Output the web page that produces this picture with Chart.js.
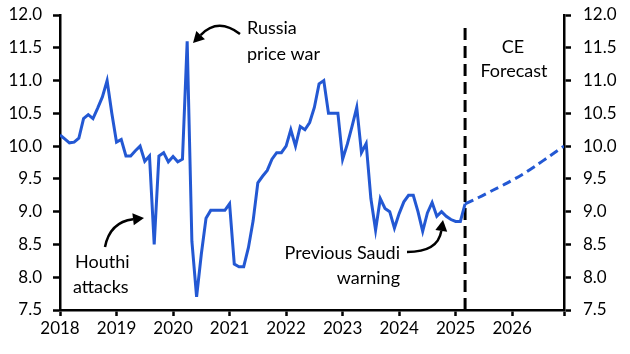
<!DOCTYPE html>
<html>
<head>
<meta charset="utf-8">
<script src="https://cdn.jsdelivr.net/npm/chart.js@4.4.1/dist/chart.umd.min.js"></script>
<style>
  html, body { margin: 0; padding: 0; background: #fff; }
</style>
</head>
<body>
<canvas id="chart" width="630" height="354"></canvas>
<script>
// Monthly actuals, starting Jan 2018
const firstMonth = '2018-01';
const actual = [
    10.17, 10.11, 10.05, 10.06, 10.12, 10.42, 10.48, 10.42, 10.58, 10.75, 11.0, 10.5,   // 2018
    10.06, 10.1, 9.85, 9.85, 9.93, 10.0, 9.77, 9.85, 8.5, 9.85, 9.9, 9.76,              // 2019
    9.84, 9.76, 9.8, 11.6, 8.55, 7.7, 8.35, 8.9, 9.02, 9.02, 9.02, 9.02,                // 2020
    9.12, 8.2, 8.16, 8.16, 8.45, 8.86, 9.44, 9.54, 9.63, 9.8, 9.9, 9.9,                  // 2021
    10.0, 10.25, 10.0, 10.3, 10.25, 10.36, 10.59, 10.95, 11.0, 10.5, 10.5, 10.5,        // 2022
    9.8, 10.03, 10.3, 10.59, 9.9, 10.04, 9.2, 8.72, 9.2, 9.05, 9.0, 8.75,               // 2023
    8.97, 9.15, 9.25, 9.25, 9.0, 8.7, 8.98, 9.14, 8.93, 9.0, 8.93, 8.88,                // 2024
    8.85, 8.85, 9.12                                                                     // 2025
];

// CE forecast path
const forecastMonths = ['2025-03', '2025-06', '2025-09', '2025-12', '2026-03', '2026-06', '2026-09', '2026-12'];
const forecast = [9.12, 9.22, 9.33, 9.44, 9.56, 9.70, 9.85, 10.0];

// forecast divider
const dividerMonth = '2025-03';
const dividerRange = [7.5, 11.85];

const yearTicks = [2018, 2019, 2020, 2021, 2022, 2023, 2024, 2025, 2026];
const yTicks = [7.5, 8.0, 8.5, 9.0, 9.5, 10.0, 10.5, 11.0, 11.5, 12.0];
const xEnd = '2026-12';

// 'YYYY-MM' -> decimal year
function toYear(m) {
    const [y, mo] = m.split('-').map(Number);
    return y + (mo - 1) / 12;
}

const startYear = toYear(firstMonth);
const actualPoints = actual.map((v, i) => ({ x: startYear + i / 12, y: v }));
const forecastPoints = forecastMonths.map((m, i) => ({ x: toYear(m), y: forecast[i] }));
const dividerPoints = dividerRange.map(v => ({ x: toYear(dividerMonth), y: v }));

const blue = '#2358d3';
const tickFont = { family: 'Lato', size: 17 };

// arrow: quadratic curve with a filled head at the end
function drawArrow(ctx, x0, y0, cx, cy, x1, y1) {
    const ang = Math.atan2(y1 - cy, x1 - cx);
    const len = 11, w = 6;
    const bx = x1 - len * Math.cos(ang), by = y1 - len * Math.sin(ang);
    ctx.beginPath();
    ctx.moveTo(x0, y0);
    ctx.quadraticCurveTo(cx, cy, bx, by);
    ctx.stroke();
    ctx.beginPath();
    ctx.moveTo(x1, y1);
    ctx.lineTo(bx - w * Math.sin(ang), by + w * Math.cos(ang));
    ctx.lineTo(bx + w * Math.sin(ang), by - w * Math.cos(ang));
    ctx.closePath();
    ctx.fill();
}

const notes = {
    id: 'notes',
    afterDraw(chart) {
        const ctx = chart.ctx;
        ctx.save();
        ctx.fillStyle = '#000';
        ctx.strokeStyle = '#000';
        ctx.lineWidth = 2.5;
        ctx.font = '18px Lato';
        ctx.textBaseline = 'alphabetic';

        ctx.textAlign = 'left';
        ctx.fillText('Russia', 247, 34);
        ctx.fillText('price war', 247, 60);
        ctx.fillText('Houthi', 75, 268);
        ctx.fillText('attacks', 73, 293);

        ctx.textAlign = 'right';
        ctx.fillText('Previous Saudi', 400, 259);
        ctx.fillText('warning', 400, 284);

        ctx.textAlign = 'center';
        ctx.fillText('CE', 513, 53);
        ctx.fillText('Forecast', 514, 77);

        drawArrow(ctx, 240, 34, 218, 17, 193, 43);
        drawArrow(ctx, 105, 247, 110, 222, 144, 218);
        drawArrow(ctx, 407, 252, 438, 252, 443, 220);
        ctx.restore();
    }
};

function fitY(width) {
    return s => {
        s.width = width;
        s.paddingTop = 0;
        s.paddingBottom = 0;
    };
}

new Chart(document.getElementById('chart'), {
    type: 'line',
    data: {
        datasets: [
            {
                data: actualPoints,
                borderColor: blue,
                borderWidth: 3,
                pointRadius: 0,
                tension: 0,
                yAxisID: 'y'
            },
            {
                data: forecastPoints,
                borderColor: blue,
                borderWidth: 3,
                borderDash: [9, 5],
                pointRadius: 0,
                tension: 0.3,
                yAxisID: 'y'
            },
            {
                data: dividerPoints,
                borderColor: '#000',
                borderWidth: 3,
                borderDash: [12, 6],
                pointRadius: 0,
                yAxisID: 'y'
            }
        ]
    },
    options: {
        responsive: false,
        animation: false,
        devicePixelRatio: 1,
        layout: { padding: { top: 15, left: 0, right: 0, bottom: 0 } },
        plugins: {
            legend: { display: false },
            tooltip: { enabled: false }
        },
        scales: {
            x: {
                type: 'linear',
                min: startYear,
                max: toYear(xEnd),
                afterBuildTicks: s => { s.ticks = yearTicks.concat([toYear(xEnd)]).map(v => ({ value: v })); },
                afterFit: s => { s.height = 44; s.paddingLeft = 0; s.paddingRight = 0; },
                border: { display: true, color: '#000', width: 2.5 },
                grid: { drawOnChartArea: false, drawTicks: true, tickLength: 6, tickColor: '#000', tickWidth: 2.5 },
                ticks: {
                    color: '#000',
                    font: tickFont,
                    padding: 2,
                    maxRotation: 0,
                    autoSkip: false,
                    callback: v => Number.isInteger(v) ? String(v) : ''
                }
            },
            y: {
                position: 'left',
                min: 7.5,
                max: 12,
                afterBuildTicks: s => { s.ticks = yTicks.map(v => ({ value: v })); },
                afterFit: fitY(60),
                border: { display: true, color: '#000', width: 2.5 },
                grid: { drawOnChartArea: false, drawTicks: true, tickLength: 7, tickColor: '#000', tickWidth: 2.5 },
                ticks: { color: '#000', font: tickFont, padding: 11, callback: v => v.toFixed(1) }
            },
            y2: {
                position: 'right',
                display: true,
                min: 7.5,
                max: 12,
                afterBuildTicks: s => { s.ticks = yTicks.map(v => ({ value: v })); },
                afterFit: fitY(66),
                border: { display: true, color: '#000', width: 2.5 },
                grid: { drawOnChartArea: false, drawTicks: true, tickLength: 7, tickColor: '#000', tickWidth: 2.5 },
                ticks: { color: '#000', font: tickFont, padding: 12, callback: v => v.toFixed(1) }
            }
        }
    },
    plugins: [notes]
});
</script>
</body>
</html>
